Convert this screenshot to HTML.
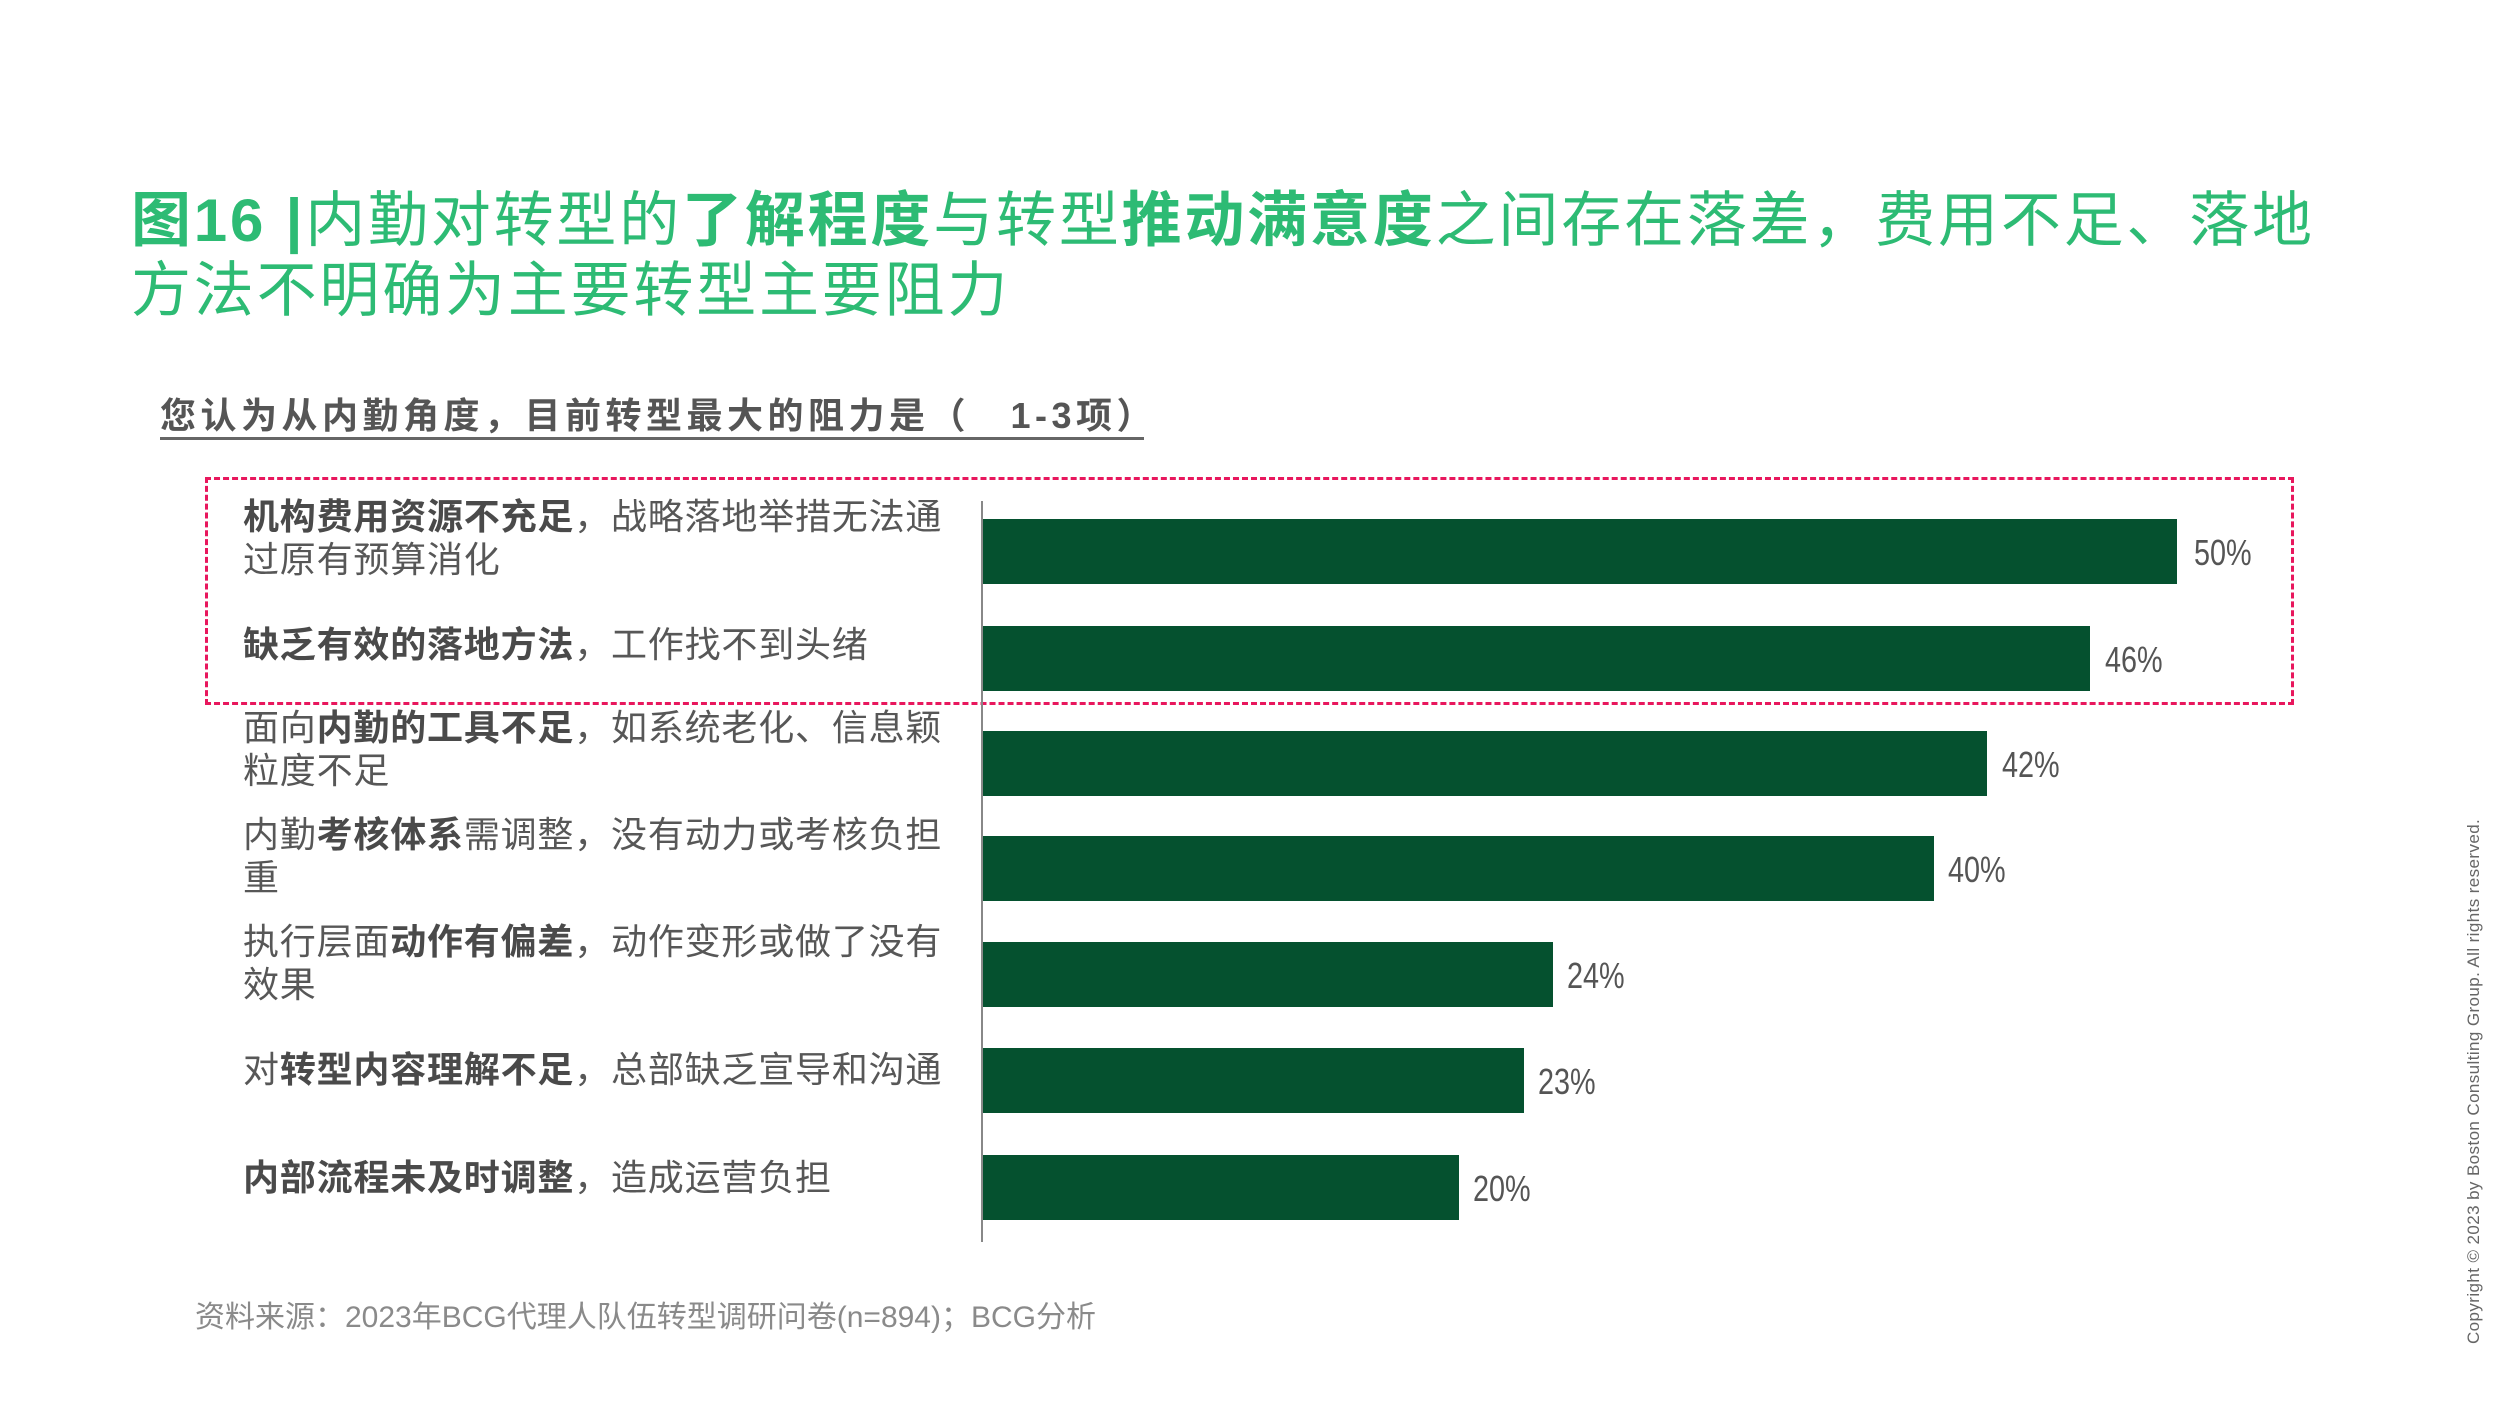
<!DOCTYPE html>
<html><head><meta charset="utf-8"><style>
body{margin:0;width:2500px;height:1406px;background:#fff;position:relative;overflow:hidden;font-family:"Liberation Sans","Noto Sans CJK SC",sans-serif}
.a{position:absolute;white-space:nowrap}
.t{color:#2dbb74;font-size:60px;line-height:70px;left:131px;letter-spacing:2.8px}
.lab{color:#575757;font-size:36px;line-height:43px;left:243px;letter-spacing:0.8px}
.lab b{color:#4a4a4a}
.bar{position:absolute;left:983px;height:65px;background:#05512f}
.v{position:absolute;color:#555;font-size:36px;transform:scaleX(0.8);transform-origin:left center;line-height:40px}
</style></head><body>
<div class="a t" style="top:186px"><b>图16 |</b>内勤对转型的<b>了解程度</b>与转型<b>推动满意度</b>之间存在落差，费用不足、落地</div>
<div class="a t" style="top:256px">方法不明确为主要转型主要阻力</div>
<div class="a" style="left:160px;top:394px;font-size:36px;font-weight:bold;color:#555;line-height:44px;letter-spacing:4.5px">您认为从内勤角度，目前转型最大的阻力是（　1-3项）</div>
<div class="a" style="left:160px;top:437px;width:984px;height:3px;background:#666"></div>
<div class="a" style="left:205px;top:477px;width:2083px;height:222px;border:3px dashed #e8175d"></div>
<div class="a" style="left:981px;top:501px;width:2px;height:741px;background:#888"></div>

<div class="a lab" style="top:495px"><b>机构费用资源不充足</b>，战略落地举措无法通<br>过原有预算消化</div>
<div class="a lab" style="top:623px"><b>缺乏有效的落地方法</b>，工作找不到头绪</div>
<div class="a lab" style="top:706px">面向<b>内勤的工具不足</b>，如系统老化、信息颖<br>粒度不足</div>
<div class="a lab" style="top:813px">内勤<b>考核体系</b>需调整，没有动力或考核负担<br>重</div>
<div class="a lab" style="top:920px">执行层面<b>动作有偏差</b>，动作变形或做了没有<br>效果</div>
<div class="a lab" style="top:1048px">对<b>转型内容理解不足</b>，总部缺乏宣导和沟通</div>
<div class="a lab" style="top:1156px"><b>内部流程未及时调整</b>，造成运营负担</div>

<div class="bar" style="top:519px;width:1194px"></div>
<div class="bar" style="top:626px;width:1107px"></div>
<div class="bar" style="top:731px;width:1004px"></div>
<div class="bar" style="top:836px;width:951px"></div>
<div class="bar" style="top:942px;width:570px"></div>
<div class="bar" style="top:1048px;width:541px"></div>
<div class="bar" style="top:1155px;width:476px"></div>

<div class="v" style="left:2194px;top:533px">50%</div>
<div class="v" style="left:2105px;top:640px">46%</div>
<div class="v" style="left:2002px;top:745px">42%</div>
<div class="v" style="left:1948px;top:850px">40%</div>
<div class="v" style="left:1567px;top:956px">24%</div>
<div class="v" style="left:1538px;top:1062px">23%</div>
<div class="v" style="left:1473px;top:1169px">20%</div>

<div class="a" style="left:195px;top:1300px;font-size:30px;color:#8a8a8a;line-height:36px">资料来源：2023年BCG代理人队伍转型调研问卷(n=894)；BCG分析</div>
<div class="a" style="left:2463px;top:1344px;font-size:17px;color:#666;transform:rotate(-90deg);transform-origin:left top;line-height:22px;letter-spacing:0.4px">Copyright © 2023 by Boston Consulting Group. All rights reserved.</div>
</body></html>
